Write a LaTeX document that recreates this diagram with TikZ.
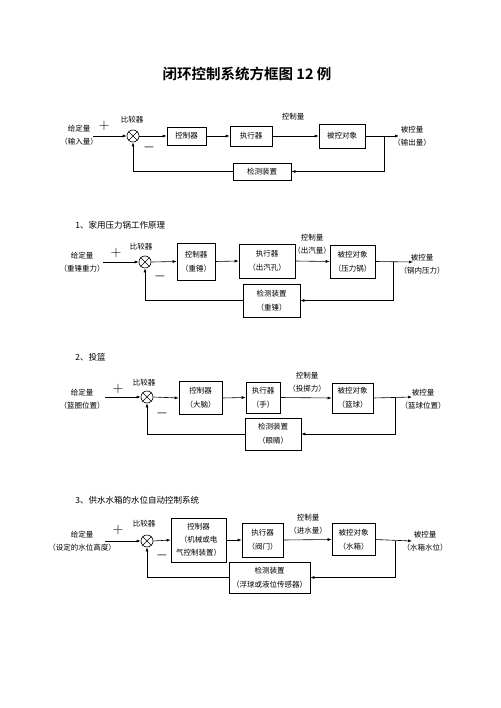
\documentclass[tikz,border=0pt]{standalone}
\usepackage{fontspec}
\setmainfont{Noto Sans CJK SC}[BoldFont={Noto Sans CJK SC Bold}]
\usetikzlibrary{arrows.meta}
\tikzset{
  blk/.style={draw,inner sep=0pt,align=center,font=\fontsize{7.5}{14}\selectfont},
  lbl/.style={inner sep=0pt,align=center,font=\fontsize{7.5}{13}\selectfont},
  hd/.style={inner sep=0pt,anchor=west,font=\fontsize{8.5}{10}\selectfont},
  cmp/.style={draw,circle,minimum size=12pt,inner sep=0pt},
  plus/.style={inner sep=0pt,font=\fontsize{15}{15}\selectfont},
  minus/.style={inner sep=0pt,font=\fontsize{11}{11}\selectfont},
  sig/.style={-{Latex[length=4pt,width=3pt]}},
}
\begin{document}
\begin{tikzpicture}[x=1pt,y=-1pt,line width=0.6pt]
\useasboundingbox (0,0) rectangle (500,708);
\node[inner sep=0pt,font=\fontsize{14.5}{16}\selectfont\bfseries] (title) at (247,74) {闭环控制系统方框图 12 例};
% closed loop
\node[lbl] (in1) at (79,135.5) {给定量\\（输入量）};
\coordinate (s1) at (93,136);
\node[cmp] (c1) at (133,136) {};
\draw (c1.north west) -- (c1.south east) (c1.north east) -- (c1.south west);
\node[plus] (p1) at (104,126) {$+$};
\node[lbl] (cl1) at (132,120) {比较器};
\node[minus] (m1) at (149,149) {—};
\node[blk,minimum width=39,minimum height=18] (k1) at (186.5,136) {控制器};
\node[blk,minimum width=42,minimum height=20] (z1) at (251,136) {执行器};
\node[lbl] (u1) at (293,117) {控制量};
\node[blk,minimum width=46,minimum height=24] (b1) at (342,136) {被控对象};
\coordinate (t1) at (384,136);
\coordinate (o1) at (399,136);
\node[lbl] (out1) at (412,136) {被控量\\（输出量）};
\node[blk,minimum width=58,minimum height=17] (f1) at (262,171.5) {检测装置};
\draw[sig] (s1) -- (c1.west);
\draw[sig] (c1.east) -- (k1.west);
\draw[sig] (k1.east) -- (z1.west);
\draw[sig] (z1.east) -- (b1.west);
\draw[sig] (b1.east) -- (o1);
\draw[sig] (t1) |- (f1.east);
\draw[sig] (f1.west) -| (c1.south);
% 1
\node[hd] (h2) at (75,225) {1、家用压力锅工作原理};
\node[lbl] (in2) at (82,262.5) {给定量\\（重锤重力）};
\coordinate (s2) at (103,262);
\node[cmp] (c2) at (145,262) {};
\draw (c2.north west) -- (c2.south east) (c2.north east) -- (c2.south west);
\node[plus] (p2) at (116,253) {$+$};
\node[lbl] (cl2) at (141,247) {比较器};
\node[minus] (m2) at (160,278) {—};
\node[blk,minimum width=38,minimum height=37] (k2) at (196,261.5) {控制器\\（重锤）};
\node[blk,minimum width=56,minimum height=34] (z2) at (267,261) {执行器\\（出汽孔）};
\node[lbl] (u2) at (312,244.5) {控制量\\（出汽量）};
\node[blk,minimum width=45,minimum height=33] (b2) at (352.5,261.5) {被控对象\\（压力锅）};
\coordinate (t2) at (393,262);
\coordinate (o2) at (413,262);
\node[lbl] (out2) at (422,264) {被控量\\（锅内压力）};
\node[blk,minimum width=57,minimum height=33] (f2) at (271.5,300.5) {检测装置\\（重锤）};
\draw[sig] (s2) -- (c2.west);
\draw[sig] (c2.east) -- (k2.west);
\draw[sig] (k2.east) -- (z2.west);
\draw[sig] (z2.east) -- (b2.west);
\draw[sig] (b2.east) -- (o2);
\draw[sig] (t2) |- (f2.east);
\draw[sig] (f2.west) -| (c2.south);
% 2
\node[hd] (h3) at (75,357) {2、投篮};
\node[lbl] (in3) at (82,399) {给定量\\（篮圈位置）};
\coordinate (s3) at (105,397);
\node[cmp] (c3) at (147,397) {};
\draw (c3.north west) -- (c3.south east) (c3.north east) -- (c3.south west);
\node[plus] (p3) at (118,389) {$+$};
\node[lbl] (cl3) at (144,383) {比较器};
\node[minus] (m3) at (162,415) {—};
\node[blk,minimum width=43,minimum height=33] (k3) at (200.5,398) {控制器\\（大脑）};
\node[blk,minimum width=34,minimum height=31] (z3) at (263,397.5) {执行器\\（手）};
\node[lbl] (u3) at (307,382) {控制量\\（投掷力）};
\node[blk,minimum width=41,minimum height=30] (b3) at (352.5,398) {被控对象\\（篮球）};
\coordinate (t3) at (395,397);
\coordinate (o3) at (412,397);
\node[lbl] (out3) at (423,399) {被控量\\（篮球位置）};
\node[blk,minimum width=56,minimum height=32] (f3) at (273,434) {检测装置\\（眼睛）};
\draw[sig] (s3) -- (c3.west);
\draw[sig] (c3.east) -- (k3.west);
\draw[sig] (k3.east) -- (z3.west);
\draw[sig] (z3.east) -- (b3.west);
\draw[sig] (b3.east) -- (o3);
\draw[sig] (t3) |- (f3.east);
\draw[sig] (f3.west) -| (c3.south);
% 3
\node[hd] (h4) at (75,500) {3、供水水箱的水位自动控制系统};
\node[lbl] (in4) at (82,541.5) {给定量\\（设定的水位高度）};
\coordinate (s4) at (105,541);
\node[cmp] (c4) at (147,541) {};
\draw (c4.north west) -- (c4.south east) (c4.north east) -- (c4.south west);
\node[plus] (p4) at (118,530) {$+$};
\node[lbl] (cl4) at (144,524) {比较器};
\node[minus] (m4) at (162,557) {—};
\node[blk,minimum width=55,minimum height=44,font=\fontsize{7.5}{13}\selectfont] (k4) at (198.5,540) {控制器\\（机械或电\\气控制装置）};
\node[blk,minimum width=41,minimum height=34] (z4) at (262.5,540) {执行器\\（阀门）};
\node[lbl] (u4) at (308,524) {控制量\\（进水量）};
\node[blk,minimum width=43,minimum height=32] (b4) at (353.5,539.5) {被控对象\\（水箱）};
\coordinate (t4) at (395,541);
\coordinate (o4) at (412,541);
\node[lbl] (out4) at (425,541.5) {被控量\\（水箱水位）};
\node[blk,minimum width=81,minimum height=31] (f4) at (269.5,577.5) {检测装置\\（浮球或液位传感器）};
\draw[sig] (s4) -- (c4.west);
\draw[sig] (c4.east) -- (k4.west);
\draw[sig] (k4.east) -- (z4.west);
\draw[sig] (z4.east) -- (b4.west);
\draw[sig] (b4.east) -- (o4);
\draw[sig] (t4) |- (f4.east);
\draw[sig] (f4.west) -| (c4.south);
\end{tikzpicture}
\end{document}
